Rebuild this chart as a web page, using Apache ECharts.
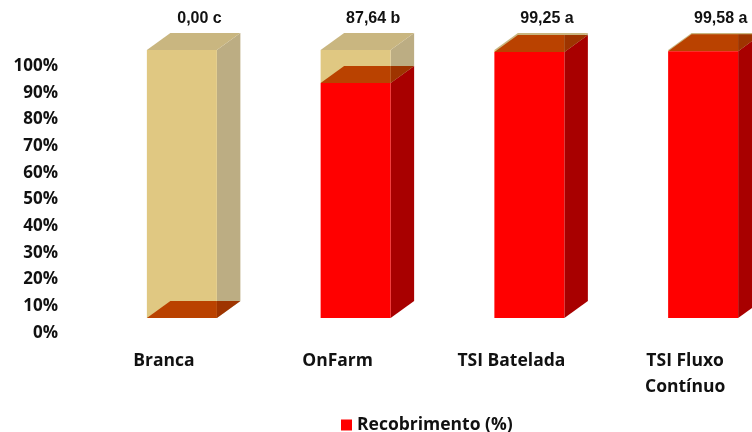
<!DOCTYPE html>
<html>
<head>
<meta charset="utf-8">
<script src="https://cdn.jsdelivr.net/npm/echarts@6/dist/echarts.min.js"></script>
<style>
  html, body { margin: 0; padding: 0; background: #fff; }
  #chart { width: 752px; height: 432px; }
</style>
</head>
<body>
<div id="chart"></div>
<script>
// Treatments and seed coating values (%), with significance letters
const categories = ['Branca', 'OnFarm', 'TSI Batelada', 'TSI Fluxo\nContínuo'];
const recobrimento = [0.00, 87.64, 99.25, 99.58];
const letras = ['c', 'b', 'a', 'a'];
const seriesName = 'Recobrimento (%)';

// 3D box geometry (pixels)
const DEPTH_X = 23.5;
const DEPTH_Y = 17;
const BAR_RATIO = 70 / 173.75;

const labelFont = 'Open Sans';

function boxParts(api, v0, v1) {
  const idx = api.value(0);
  const p0 = api.coord([idx, v0]);
  const p1 = api.coord([idx, v1]);
  const w = api.size([1, 0])[0] * BAR_RATIO;
  const x0 = p0[0] - w / 2, x1 = p0[0] + w / 2;
  const yb = p0[1], yt = p1[1];
  return { x0, x1, yb, yt, w, cx: p0[0] };
}

// Remaining (uncoated) part of each column, stacked up to 100 %
function renderRest(params, api) {
  const b = boxParts(api, api.value(1), 100);
  const { x0, x1, yb, yt } = b;
  return {
    type: 'group',
    children: [
      { type: 'polygon', shape: { points: [[x1, yb], [x1, yt], [x1 + DEPTH_X, yt - DEPTH_Y], [x1 + DEPTH_X, yb - DEPTH_Y]] },
        style: { fill: '#BCAD83' } },
      { type: 'polygon', shape: { points: [[x0, yt], [x1, yt], [x1 + DEPTH_X, yt - DEPTH_Y], [x0 + DEPTH_X, yt - DEPTH_Y]] },
        style: { fill: '#C9B680' } },
      { type: 'rect', shape: { x: x0, y: yt, width: x1 - x0, height: yb - yt },
        style: { fill: '#E0C882' } }
    ]
  };
}

// Coated part of each column, from 0 to the measured value
function renderCoat(params, api) {
  const v = api.value(1);
  const i = params.dataIndex;
  const b = boxParts(api, 0, v);
  const { x0, x1, yb, yt, cx } = b;
  const topY = api.coord([api.value(0), 100])[1] - DEPTH_Y;
  const children = [];
  if (yb - yt > 0.5) {
    children.push({ type: 'polygon', shape: { points: [[x1, yb], [x1, yt], [x1 + DEPTH_X, yt - DEPTH_Y], [x1 + DEPTH_X, yb - DEPTH_Y]] },
      style: { fill: '#A80000' } });
  }
  children.push({ type: 'polygon', shape: { points: [[x0, yt], [x1, yt], [x1, yt - DEPTH_Y], [x0 + DEPTH_X, yt - DEPTH_Y]] },
    style: { fill: '#BA4200' } });
  children.push({ type: 'polygon', shape: { points: [[x1, yt], [x1 + DEPTH_X, yt - DEPTH_Y], [x1, yt - DEPTH_Y]] },
    style: { fill: '#9E3400' } });
  if (yb - yt > 0.5) {
    children.push({ type: 'rect', shape: { x: x0, y: yt, width: x1 - x0, height: yb - yt },
      style: { fill: '#FF0000' } });
  }
  children.push({
    type: 'text',
    style: {
      x: cx + DEPTH_X * 0.75,
      y: topY - 6,
      text: v.toFixed(2).replace('.', ',') + ' ' + letras[i],
      fill: '#111',
      font: 'bold 16px "Liberation Sans", Arial, sans-serif',
      textAlign: 'center',
      textVerticalAlign: 'bottom'
    }
  });
  return { type: 'group', children };
}

const chart = echarts.init(document.getElementById('chart'), null, { renderer: 'canvas' });

chart.setOption({
  backgroundColor: '#fff',
  animation: false,
  grid: [
    // columns
    { left: 95, width: 695, top: 50, bottom: 114, outerBoundsMode: 'none' },
    // axis labels
    { left: 77, width: 695, top: 66, bottom: 99, outerBoundsMode: 'none' }
  ],
  xAxis: [
    { type: 'category', gridIndex: 0, data: categories, show: false },
    {
      type: 'category', gridIndex: 1, data: categories,
      axisLine: { show: false }, axisTick: { show: false }, splitLine: { show: false },
      axisLabel: {
        margin: 15, interval: 0, color: '#111',
        fontFamily: labelFont, fontWeight: 'bold', fontSize: 17.5, lineHeight: 26
      }
    }
  ],
  yAxis: [
    { type: 'value', gridIndex: 0, min: 0, max: 100, interval: 10, show: false },
    {
      type: 'value', gridIndex: 1, min: 0, max: 100, interval: 10,
      axisLine: { show: false }, axisTick: { show: false }, splitLine: { show: false },
      axisLabel: {
        margin: 19, color: '#111', formatter: '{value}%',
        fontFamily: labelFont, fontWeight: 'bold', fontSize: 17
      }
    }
  ],
  legend: {
    data: [seriesName],
    left: 336, top: 411,
    icon: 'rect', itemWidth: 11, itemHeight: 11, itemGap: 10,
    selectedMode: false,
    textStyle: { fontFamily: labelFont, fontWeight: 'bold', fontSize: 17.5, color: '#111' }
  },
  series: [
    {
      type: 'custom', name: 'Restante',
      xAxisIndex: 0, yAxisIndex: 0,
      renderItem: renderRest,
      encode: { x: 0, y: 1 },
      itemStyle: { color: '#E0C882' },
      data: recobrimento.map((v, i) => [i, v])
    },
    {
      type: 'custom', name: seriesName,
      xAxisIndex: 0, yAxisIndex: 0,
      renderItem: renderCoat,
      encode: { x: 0, y: 1 },
      itemStyle: { color: '#FF0000' },
      data: recobrimento.map((v, i) => [i, v])
    }
  ]
});
</script>
</body>
</html>
